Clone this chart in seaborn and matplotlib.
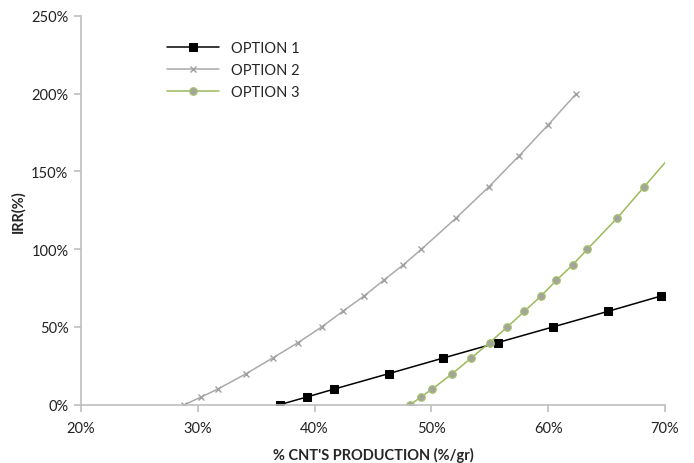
import numpy as np
import pandas as pd
import seaborn as sns
import matplotlib
matplotlib.use('Agg')
import matplotlib.pyplot as plt
from matplotlib.ticker import PercentFormatter

# values (x: % CNT production, y: IRR %)
opt1_x = [37.0, 39.35, 41.65, 46.35, 51.0, 55.7, 60.4, 65.1, 69.7]
opt1_y = [0, 5, 10, 20, 30, 40, 50, 60, 70]

opt2_x = [28.85, 30.3, 31.7, 34.15, 36.4, 38.6, 40.6, 42.4, 44.25, 45.9,
          47.6, 49.15, 52.1, 54.9, 57.5, 60.0, 62.4]
opt2_y = [0, 5, 10, 20, 30, 40, 50, 60, 70, 80, 90, 100, 120, 140, 160, 180, 200]

opt3_x = [48.2, 49.1, 50.05, 51.8, 53.4, 55.0, 56.5, 57.95, 59.4, 60.7,
          62.1, 63.35, 65.9, 68.2, 70.5]
opt3_y = [0, 5, 10, 20, 30, 40, 50, 60, 70, 80, 90, 100, 120, 140, 160]

labels = ['OPTION 1', 'OPTION 2', 'OPTION 3']

sns.set_style('white')
plt.rcParams['font.family'] = ['Lato', 'DejaVu Sans']

fig = plt.figure(figsize=(6.94, 4.64), dpi=100)
ax = fig.add_axes([0.1167, 0.1256, 0.8415, 0.8378])

sns.lineplot(x=opt1_x, y=opt1_y, sort=False, ax=ax, color='black', lw=1.1,
             marker='s', markersize=6, markerfacecolor='black',
             markeredgecolor='black', label=labels[0])
sns.lineplot(x=opt2_x, y=opt2_y, sort=False, ax=ax, color='#AAAAAA', lw=1.1,
             marker='x', markersize=4.5, markeredgewidth=1,
             markeredgecolor='#A0A0A0', label=labels[1])
sns.lineplot(x=opt3_x, y=opt3_y, sort=False, ax=ax, color='#9BBB59', lw=1.1,
             marker='o', markersize=5.5, markerfacecolor='#A2A597',
             markeredgecolor='#A9C46E', markeredgewidth=0.8, label=labels[2])

ax.set_xlim(20, 70)
ax.set_ylim(0, 250)
ax.set_xticks(np.arange(20, 71, 10))
ax.set_yticks(np.arange(0, 251, 50))
ax.xaxis.set_major_formatter(PercentFormatter(decimals=0))
ax.yaxis.set_major_formatter(PercentFormatter(decimals=0))

for s in ['top', 'right']:
    ax.spines[s].set_visible(False)
for s in ['left', 'bottom']:
    ax.spines[s].set_color('#BFBFBF')
    ax.spines[s].set_linewidth(1.2)
ax.tick_params(axis='both', which='major', length=5, width=1.2, color='#BFBFBF',
               direction='out', labelsize=10.5, labelcolor='#222222', pad=4,
               bottom=True, left=True)
ax.tick_params(axis='x', pad=7)

ax.set_xlabel("% CNT'S PRODUCTION (%/gr)", fontsize=10.5, fontweight='bold',
              labelpad=8)
ax.set_ylabel('IRR(%)', fontsize=10.5, fontweight='bold', labelpad=4)

ax.legend(loc='upper left', bbox_to_anchor=(0.137, 0.95), frameon=False,
          fontsize=10.5, handlelength=3.6, labelspacing=0.55, borderaxespad=0)

plt.savefig('out.png', dpi=100)
